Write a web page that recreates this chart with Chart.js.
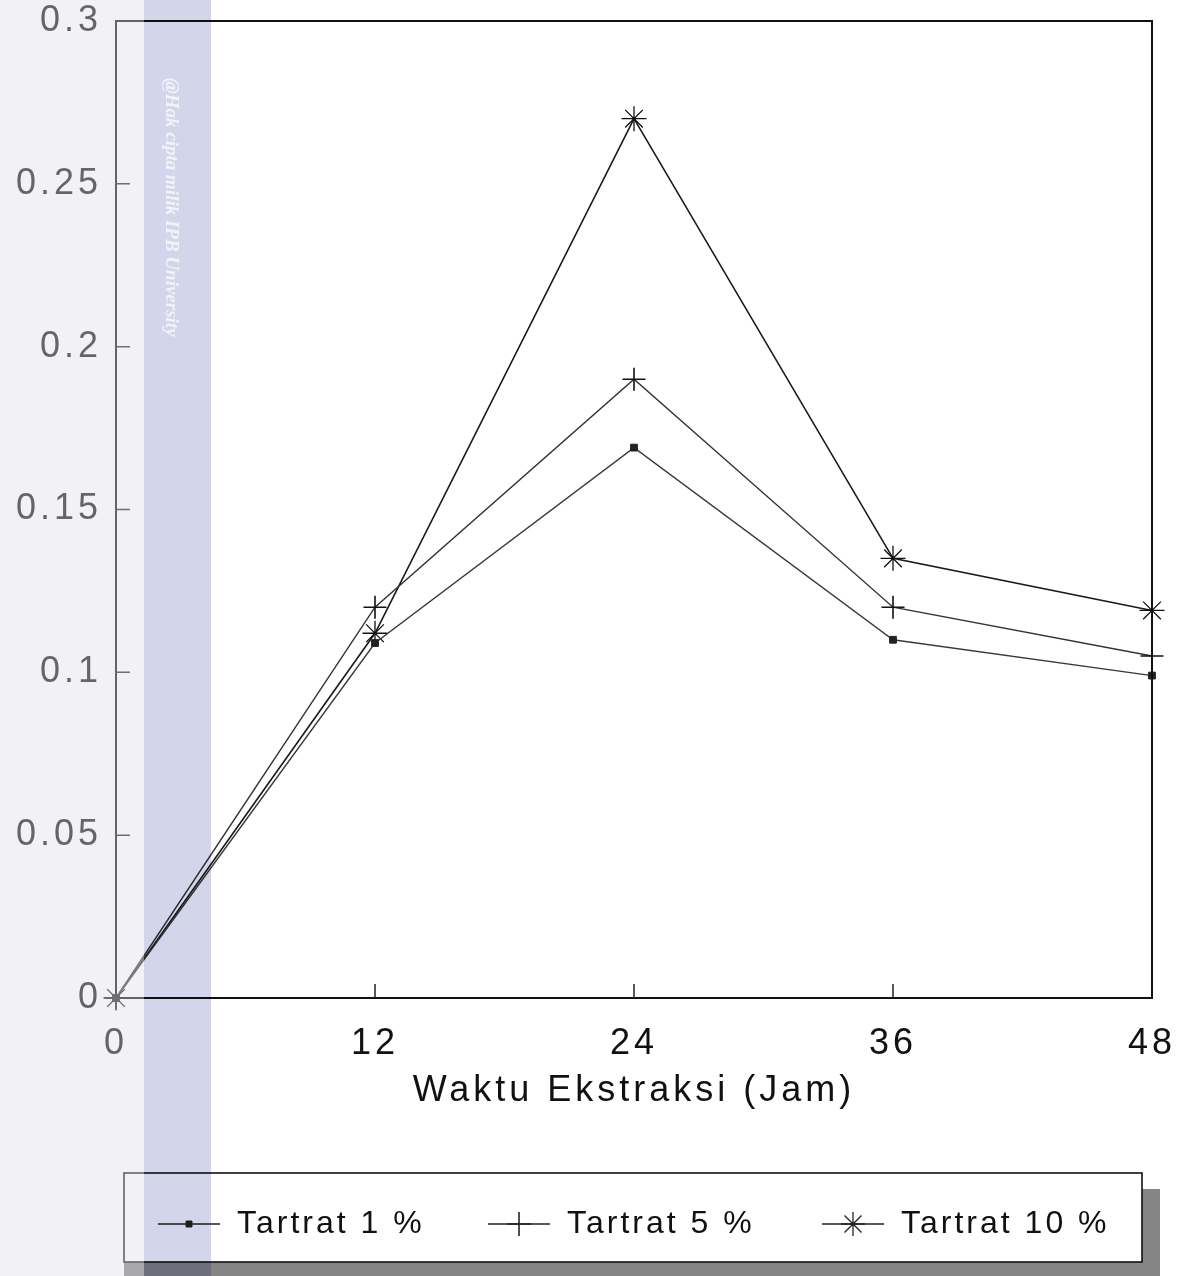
<!DOCTYPE html>
<html>
<head>
<meta charset="utf-8">
<script src="https://cdn.jsdelivr.net/npm/chart.js@4.4.1/dist/chart.umd.min.js"></script>
<style>
  html, body { margin: 0; padding: 0; background: #ffffff; }
  canvas { display: block; }
</style>
</head>
<body>
<canvas id="chart" width="1191" height="1276"></canvas>
<script>
// Extraction time (hours) and measured values for each tartrate concentration
const hours = [0, 12, 24, 36, 48];
const tartrat1 = [0, 0.109, 0.169, 0.110, 0.099];
const tartrat5 = [0, 0.120, 0.190, 0.120, 0.105];
const tartrat10 = [0, 0.112, 0.270, 0.135, 0.119];
const seriesLabels = ['Tartrat 1 %', 'Tartrat 5 %', 'Tartrat 10 %'];
const yTicks = [0, 0.05, 0.1, 0.15, 0.2, 0.25, 0.3];
const xTitle = 'Waktu Ekstraksi (Jam)';
const watermarkText = '@Hak cipta milik IPB University';

const FONT = '"Liberation Sans", Arial, Helvetica, sans-serif';
const toPoints = ys => hours.map((h, i) => ({ x: h, y: ys[i] }));

// Small marker painter used for the legend samples
function drawMarker(ctx, style, x, y, r) {
  ctx.beginPath();
  if (style === 'rect') {
    const s = r * Math.SQRT1_2;
    ctx.rect(x - s, y - s, 2 * s, 2 * s);
    ctx.fill();
    ctx.stroke();
    return;
  }
  ctx.moveTo(x - r, y); ctx.lineTo(x + r, y);
  ctx.moveTo(x, y - r); ctx.lineTo(x, y + r);
  if (style === 'star') {
    const d = r * Math.SQRT1_2;
    ctx.moveTo(x - d, y - d); ctx.lineTo(x + d, y + d);
    ctx.moveTo(x - d, y + d); ctx.lineTo(x + d, y - d);
  }
  ctx.stroke();
}

// White page under everything, and the letter spacing used by the axis text
const backgroundPlugin = {
  id: 'background',
  beforeDraw(chart) {
    const ctx = chart.ctx;
    ctx.save();
    ctx.fillStyle = '#ffffff';
    ctx.fillRect(0, 0, chart.width, chart.height);
    ctx.restore();
    ctx.letterSpacing = '4px';
  }
};

const framePlugin = {
  id: 'frame',
  afterDraw(chart) {
    const { ctx, chartArea: a, scales } = chart;
    ctx.save();
    ctx.letterSpacing = '0px';
    ctx.strokeStyle = '#111';
    ctx.lineWidth = 2;
    ctx.beginPath();
    ctx.moveTo(a.left, a.top); ctx.lineTo(a.right, a.top); ctx.lineTo(a.right, a.bottom);
    ctx.stroke();
    // inward tick marks
    ctx.lineWidth = 1.5;
    ctx.strokeStyle = '#222';
    ctx.beginPath();
    scales.y.ticks.forEach(t => {
      if (t.value <= scales.y.min || t.value >= scales.y.max) return;
      const py = scales.y.getPixelForValue(t.value);
      ctx.moveTo(a.left, py); ctx.lineTo(a.left + 14, py);
    });
    scales.x.ticks.forEach(t => {
      if (t.value <= scales.x.min || t.value >= scales.x.max) return;
      const px = scales.x.getPixelForValue(t.value);
      ctx.moveTo(px, a.bottom); ctx.lineTo(px, a.bottom - 14);
    });
    ctx.stroke();
    ctx.restore();
  }
};

const legendBoxPlugin = {
  id: 'legendBox',
  afterDraw(chart) {
    const ctx = chart.ctx;
    const box = { l: 124, t: 1173, r: 1142, b: 1262 };
    ctx.save();
    ctx.letterSpacing = '0px';
    // drop shadow
    ctx.fillStyle = '#858585';
    ctx.fillRect(box.r, box.t + 16, 18, 1276 - box.t - 16);
    ctx.fillRect(box.l, box.b, box.r - box.l + 18, 1276 - box.b);
    ctx.fillStyle = '#ffffff';
    ctx.fillRect(box.l, box.t, box.r - box.l, box.b - box.t);
    ctx.strokeStyle = '#111';
    ctx.lineWidth = 1.6;
    ctx.strokeRect(box.l, box.t, box.r - box.l, box.b - box.t);

    const cy = 1224;
    const starts = [158, 488, 822];
    chart.data.datasets.forEach((ds, i) => {
      const x0 = starts[i];
      ctx.strokeStyle = '#222';
      ctx.lineWidth = 1.4;
      ctx.beginPath();
      ctx.moveTo(x0, cy); ctx.lineTo(x0 + 62, cy);
      ctx.stroke();
      ctx.fillStyle = '#222';
      ctx.lineWidth = ds.pointBorderWidth;
      drawMarker(ctx, ds.pointStyle, x0 + 31, cy, ds.pointStyle === 'rect' ? 4.2 : 12);
      ctx.fillStyle = '#111';
      ctx.font = '32px ' + FONT;
      ctx.letterSpacing = '3px';
      ctx.textBaseline = 'middle';
      ctx.textAlign = 'left';
      ctx.fillText(ds.label, x0 + 79, cy);
      ctx.letterSpacing = '0px';
    });
    ctx.restore();
  }
};

const watermarkPlugin = {
  id: 'watermark',
  afterDraw(chart) {
    const ctx = chart.ctx;
    const H = chart.height;
    ctx.save();
    ctx.letterSpacing = '0px';
    ctx.globalCompositeOperation = 'screen';
    ctx.fillStyle = 'rgb(96,96,96)';
    ctx.fillRect(0, 0, 144, H);
    ctx.globalCompositeOperation = 'multiply';
    ctx.fillStyle = 'rgb(241,241,246)';
    ctx.fillRect(0, 0, 144, H);
    ctx.fillStyle = 'rgb(211,213,235)';
    ctx.fillRect(144, 0, 67, H);
    ctx.restore();

    ctx.save();
    ctx.letterSpacing = '0px';
    ctx.translate(171, 78);
    ctx.rotate(Math.PI / 2);
    ctx.font = 'italic bold 19px "Liberation Serif", serif';
    ctx.fillStyle = 'rgba(255,255,255,0.7)';
    ctx.textBaseline = 'middle';
    ctx.textAlign = 'left';
    ctx.fillText(watermarkText, 0, 0);
    ctx.restore();
  }
};

new Chart(document.getElementById('chart'), {
  type: 'line',
  data: {
    datasets: [
      {
        label: seriesLabels[0],
        data: toPoints(tartrat1),
        borderColor: '#3a3a3a',
        borderWidth: 1.4,
        pointStyle: 'rect',
        pointRadius: 4.8,
        pointBackgroundColor: '#222',
        pointBorderColor: '#222',
        pointBorderWidth: 1,
        clip: false
      },
      {
        label: seriesLabels[1],
        data: toPoints(tartrat5),
        borderColor: '#333',
        borderWidth: 1.4,
        pointStyle: 'cross',
        pointRadius: 11.5,
        pointBorderColor: '#111',
        pointBackgroundColor: '#111',
        pointBorderWidth: 1.6,
        clip: false
      },
      {
        label: seriesLabels[2],
        data: toPoints(tartrat10),
        borderColor: '#1a1a1a',
        borderWidth: 1.6,
        pointStyle: 'star',
        pointRadius: 12.5,
        pointBorderColor: '#111',
        pointBackgroundColor: '#111',
        pointBorderWidth: 1.3,
        clip: false
      }
    ]
  },
  options: {
    responsive: false,
    animation: false,
    devicePixelRatio: 1,
    layout: { padding: { top: 21, right: 39, bottom: 163, left: 0 } },
    elements: { line: { tension: 0, fill: false } },
    plugins: { legend: { display: false }, tooltip: { enabled: false } },
    scales: {
      x: {
        type: 'linear',
        min: 0,
        max: 48,
        afterBuildTicks: s => { s.ticks = hours.map(v => ({ value: v })); },
        afterFit: s => { s.height = 115; s.paddingLeft = 0; s.paddingRight = 0; },
        grid: { display: true, drawOnChartArea: false, drawTicks: false },
        border: { display: true, color: '#111', width: 2 },
        ticks: {
          padding: 24,
          color: '#111',
          autoSkip: false,
          maxRotation: 0,
          font: { family: FONT, size: 36 },
          callback: v => String(v)
        },
        title: {
          display: true,
          text: xTitle,
          color: '#111',
          font: { family: FONT, size: 36 },
          padding: { top: 0, bottom: 0 }
        }
      },
      y: {
        min: 0,
        max: 0.3,
        afterBuildTicks: s => { s.ticks = yTicks.map(v => ({ value: v })); },
        afterFit: s => { s.width = 116; s.paddingTop = 0; s.paddingBottom = 0; },
        grid: { display: true, drawOnChartArea: false, drawTicks: false },
        border: { display: true, color: '#111', width: 2 },
        ticks: {
          padding: 14,
          color: '#111',
          font: { family: FONT, size: 36 },
          callback: v => String(v)
        }
      }
    }
  },
  plugins: [backgroundPlugin, framePlugin, legendBoxPlugin, watermarkPlugin]
});
</script>
</body>
</html>
